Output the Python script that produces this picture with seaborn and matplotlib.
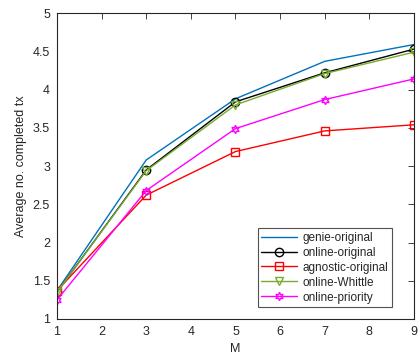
import pandas as pd
import matplotlib
matplotlib.use("Agg")
import matplotlib.pyplot as plt
import seaborn as sns

# data
M = [1, 3, 5, 7, 9]
genie_original = [1.37, 3.08, 3.88, 4.37, 4.59]
online_original = [1.35, 2.95, 3.84, 4.22, 4.53]
agnostic_original = [1.37, 2.62, 3.19, 3.46, 3.54]
online_whittle = [1.35, 2.94, 3.80, 4.21, 4.49]
online_priority = [1.25, 2.68, 3.49, 3.87, 4.14]

series = {
    "genie-original": genie_original,
    "online-original": online_original,
    "agnostic-original": agnostic_original,
    "online-Whittle": online_whittle,
    "online-priority": online_priority,
}

sns.set_style("white")
plt.rcParams['font.family'] = ['Liberation Sans', 'DejaVu Sans']
plt.rcParams['font.size'] = 8

# estilo tipo MATLAB
estilos = {
    "genie-original": dict(color='#0072BD', marker=None),
    "online-original": dict(color='black', marker='o'),
    "agnostic-original": dict(color='#FF0000', marker='s'),
    "online-Whittle": dict(color='#77AC30', marker='v'),
    "online-priority": dict(color='#FF00FF', marker=(6, 1, 0)),
}

fig = plt.figure(figsize=(4.19, 3.56), dpi=100)
ax = fig.add_axes([0.136, 0.104, 0.852, 0.859])

for nombre, vals in series.items():
    df = pd.DataFrame({"M": M, "y": vals})
    st = estilos[nombre]
    kw = dict(color=st['color'], linewidth=1.0, label=nombre, ax=ax)
    if st['marker'] is not None:
        kw.update(marker=st['marker'], markersize=6, markerfacecolor='none',
                  markeredgecolor=st['color'], markeredgewidth=1.0)
    sns.lineplot(data=df, x="M", y="y", **kw)

ax.set_xlim(1, 9)
ax.set_ylim(1, 5)
ax.set_xticks(range(1, 10))
ax.set_yticks([1, 1.5, 2, 2.5, 3, 3.5, 4, 4.5, 5])
ax.set_yticklabels(['1', '1.5', '2', '2.5', '3', '3.5', '4', '4.5', '5'])
ax.set_xlabel("M", fontsize=9, color='#262626')
ax.set_ylabel("Average no. completed tx", fontsize=9, color='#262626')
ax.tick_params(direction='in', top=True, right=True, length=4, width=0.6,
               labelsize=9, colors='#262626', pad=5)
for s in ax.spines.values():
    s.set_color('#262626')
    s.set_linewidth(0.8)

leg = ax.legend(loc='lower right', bbox_to_anchor=(0.938, 0.039), borderaxespad=0,
                fontsize=8.5, frameon=True, fancybox=False, handlelength=3.0,
                borderpad=0.3, labelspacing=0.25, handletextpad=0.5)
leg.get_frame().set_edgecolor('#262626')
leg.get_frame().set_linewidth(0.8)

plt.savefig("out.png", dpi=100)
